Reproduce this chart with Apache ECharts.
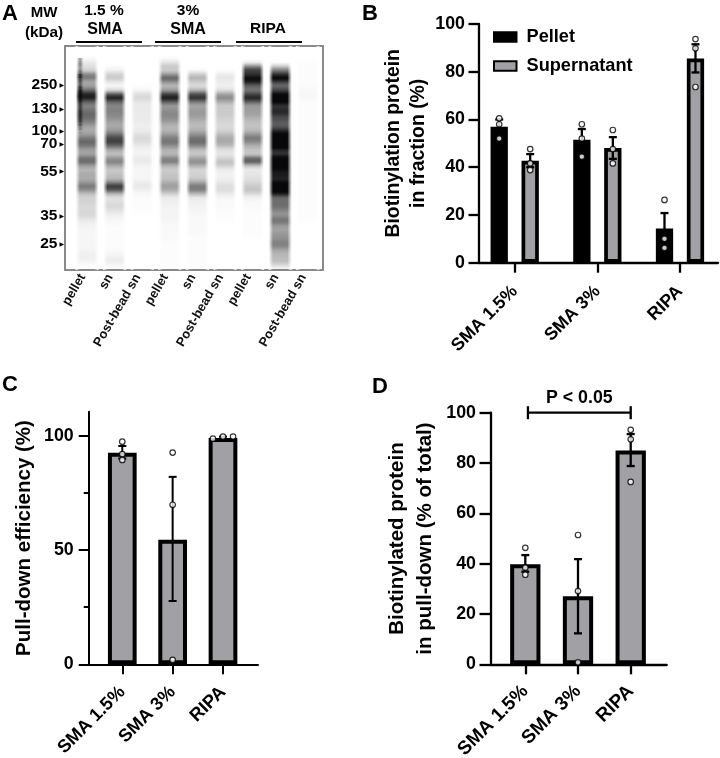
<!DOCTYPE html>
<html><head><meta charset="utf-8">
<style>html,body{margin:0;padding:0;background:#fff}#c{width:720px;height:758px}</style>
<script src="https://cdn.jsdelivr.net/npm/echarts@6/dist/echarts.min.js"></script>
</head><body><div id="c"></div>
<script>
// ---------- Panel A: blot, darkness (%) of each lane, one value per 1/56 of the blot height
const laneNames = ['pellet','sn','Post-bead sn','pellet','sn','Post-bead sn','pellet','sn','Post-bead sn'];
const mwLabels = ['250','130','100','70','55','35','25'];
const mwRows = [9.75,15.75,21.25,24.5,31.4,42.5,49.5];
const lane1 = [0,0,0,4,10,12,20,60,35,30,40,65,90,70,45,45,55,55,50,40,30,30,40,55,55,40,30,38,60,45,25,28,32,28,45,50,30,16,16,16,12,15,14,8,5,4,3,3,3,3,3,5,6,5,2,0];
const lane2 = [0,0,0,0,0,2,8,22,15,3,4,25,88,70,42,45,45,42,38,30,32,40,60,72,65,40,22,25,48,40,20,20,25,25,60,78,40,12,10,14,14,8,5,3,2,1,1,1,1,1,1,3,4,8,4,1];
const lane3 = [0,0,0,0,0,0,0,0,0,0,1,6,16,12,7,8,7,7,8,6,6,8,13,14,10,5,4,5,9,6,3,3,3,4,8,8,3,2,1,1,1,1,0,0,0,0,0,0,0,0,0,0,0,0,0,0];
const lane4 = [0,0,0,3,15,22,15,55,55,25,28,45,88,75,40,35,45,42,40,30,25,28,42,50,50,30,25,28,55,35,18,20,22,22,35,35,25,8,6,5,4,4,4,4,2,2,2,2,2,1,1,1,1,1,1,1];
const lane5 = [0,0,0,0,0,0,5,28,25,12,15,40,82,65,32,33,38,35,30,24,25,32,45,55,52,30,18,22,42,38,16,15,17,20,42,52,38,10,6,5,4,4,2,2,2,2,2,2,1,1,1,1,1,1,1,1];
const lane6 = [0,0,0,0,0,0,2,10,8,5,6,18,45,38,20,18,20,18,16,14,13,18,28,32,30,16,8,10,20,24,8,5,5,6,10,14,10,4,2,2,2,1,1,1,0,0,0,0,0,0,0,0,0,0,0,0];
const lane7 = [0,0,0,0,10,65,70,80,95,65,50,50,82,75,38,35,35,32,25,22,22,28,45,50,32,25,18,25,75,35,8,8,10,12,16,22,20,6,3,2,2,1,1,1,1,1,1,1,0,0,0,0,0,0,0,0];
const lane8 = [0,0,0,0,0,35,55,90,90,50,60,75,100,100,80,70,85,65,65,55,65,85,100,100,100,95,65,85,100,100,95,80,85,75,100,100,100,60,50,55,50,40,38,55,42,32,35,40,40,50,38,28,25,25,18,3];
const lane9 = [0,0,0,0,1,1,1,1,1,1,2,3,3,2,1,1,1,1,1,1,1,1,1,1,1,1,1,1,1,1,1,1,1,1,1,1,1,1,1,1,1,1,1,1,0,0,0,0,0,0,0,0,0,0,0,0];
const laneValues = [lane1,lane2,lane3,lane4,lane5,lane6,lane7,lane8,lane9];
const pelletStreak = [0,0,0,40,45,35,45,80,60,50,75,90,100,80,60,60,70,70,65,50,30,10,0,0];

// ---------- Panel B
const catsB = ['SMA 1.5%','SMA 3%','RIPA'];
const pelletMean = [57,51.5,14.3];
const pelletLow = [54,47,8];
const pelletHigh = [60,56,20.8];
const pelletDots = [[60.5,58,52],[58,52,44.4],[26.3,10,6.2]];
const superMean = [42.7,48,85.5];
const superLow = [40,43.5,79.7];
const superHigh = [45.5,52.6,91.5];
const superDots = [[47.6,41.6,38.8],[55.6,47.6,41.6],[93.7,89.8,73.6]];

// ---------- Panel C
const catsC = ['SMA 1.5%','SMA 3%','RIPA'];
const effMean = [92.5,54.5,99];
const effLow = [90,27.7,98.6];
const effHigh = [95.5,82,99.6];
const effDots = [[0,97.4],[0,91.9],[0,89.4],[1,92.6],[1,69.8],[1,1.9],[1.8,98.7],[2,99.6],[2.2,99.6]];

// ---------- Panel D
const catsD = ['SMA 1.5%','SMA 3%','RIPA'];
const pdMean = [39.8,27,85];
const pdLow = [36.8,12.3,78.8];
const pdHigh = [43.4,41.8,91.5];
const pdDots = [[46.3,38.4,35.6],[51.4,29.1,0.8],[93.2,89.4,72.5]];

const FONT = '"Liberation Sans", Arial, sans-serif';
const GRAY = '#a0a0a5';
const chart = echarts.init(document.getElementById('c'), null, {renderer:'canvas'});
const ink = v => 'rgba(8,8,10,'+Math.min(1,v*1.12).toFixed(3)+')';

function laneRender(params, api){
  const lane = api.value(0), row = api.value(1);
  const a = api.value(2)/100, prev = api.value(3)/100, next = api.value(4)/100;
  const hw = 0.4;
  const mid = 0.6*a+0.2*prev+0.2*next;
  const p1 = api.coord([lane-hw,row]), p2 = api.coord([lane+hw,row+1]);
  return {type:'rect',shape:{x:p1[0],y:p1[1],width:p2[0]-p1[0],height:p2[1]-p1[1]},
    style:{fill:new echarts.graphic.LinearGradient(0,0,0,1,[
      {offset:0,color:ink((a+prev)/2)},{offset:.5,color:ink(mid)},{offset:1,color:ink((a+next)/2)}])}};
}
function edgeRender(params, api){
  const lane = api.value(0), hw = 0.4, f = 0.14;
  const a = api.coord([lane-hw,0]), b = api.coord([lane-hw+f,56]);
  const c = api.coord([lane+hw-f,0]), d = api.coord([lane+hw,56]);
  const w='rgba(255,255,255,1)', t='rgba(255,255,255,0)';
  return {type:'group',children:[
    {type:'rect',shape:{x:a[0]-.5,y:a[1],width:b[0]-a[0]+.5,height:b[1]-a[1]},style:{fill:new echarts.graphic.LinearGradient(0,0,1,0,[{offset:0,color:w},{offset:1,color:t}])}},
    {type:'rect',shape:{x:c[0],y:c[1],width:d[0]-c[0]+.5,height:d[1]-c[1]},style:{fill:new echarts.graphic.LinearGradient(0,0,1,0,[{offset:0,color:t},{offset:1,color:w}])}}
  ]};
}
function streakRender(params, api){
  const row = api.value(1), a = api.value(2)/100;
  const p1 = api.coord([api.value(0)-0.13,row]), p2 = api.coord([api.value(0)+0.13,row+1]);
  const c='rgba(8,8,10,'+a+')', t='rgba(8,8,10,0)';
  return {type:'rect',shape:{x:p1[0],y:p1[1],width:p2[0]-p1[0],height:p2[1]-p1[1]},
    style:{fill:new echarts.graphic.LinearGradient(0,0,1,0,[{offset:0,color:t},{offset:.5,color:c},{offset:1,color:t}])}};
}
function errRender(capPx, lw){
  return function(params, api){
    const x=api.value(0), lo=api.coord([x,api.value(1)]), hi=api.coord([x,api.value(2)]);
    const st={stroke:'#000',lineWidth:lw,fill:null};
    return {type:'group',children:[
      {type:'line',shape:{x1:lo[0],y1:lo[1],x2:hi[0],y2:hi[1]},style:st},
      {type:'line',shape:{x1:lo[0]-capPx,y1:lo[1],x2:lo[0]+capPx,y2:lo[1]},style:st},
      {type:'line',shape:{x1:hi[0]-capPx,y1:hi[1],x2:hi[0]+capPx,y2:hi[1]},style:st}]};
  };
}
function xCatAxis(gridIndex,cats,min,max,lw,size,margin){
  const vals=cats.map((_,i)=>i);
  return {type:'value',gridIndex,min,max,splitLine:{show:false},
    axisLine:{show:true,onZero:false,lineStyle:{color:'#000',width:lw}},
    axisTick:{show:true,length:10,customValues:vals,lineStyle:{color:'#000',width:lw}},
    axisLabel:{customValues:vals,formatter:v=>cats[v],rotate:45,margin,color:'#000',fontFamily:FONT,fontWeight:'bold',fontSize:size}};
}
function yAxis(gridIndex,name,min,max,opt,nameGap,nameSize,lineH,lw,tickLen,labelMargin){
  return Object.assign({type:'value',gridIndex,min,max,name,nameLocation:'middle',nameRotate:90,nameGap,
    nameTextStyle:{color:'#000',fontFamily:FONT,fontWeight:'bold',fontSize:nameSize,lineHeight:lineH},
    splitLine:{show:false},
    axisLine:{show:true,onZero:false,lineStyle:{color:'#000',width:lw}},
    axisTick:{show:true,length:tickLen,customValues:opt.ticks,lineStyle:{color:'#000',width:lw}},
    axisLabel:{customValues:opt.ticks,margin:labelMargin,color:'#000',fontFamily:FONT,fontWeight:'bold',fontSize:17.8}},
    opt.interval?{interval:opt.interval}:{});
}
function barSeries(name,x,y,vals,w,color,bw,extra){
  return Object.assign({type:'bar',name,xAxisIndex:x,yAxisIndex:y,barWidth:w,clip:false,z:2,silent:true,
    data:vals.map((v,i)=>[i,v]),itemStyle:{color,borderColor:'#000',borderWidth:bw}},extra||{});
}
function errSeries(x,y,cen,low,high,cap,lw,off){
  return {type:'custom',xAxisIndex:x,yAxisIndex:y,clip:false,z:3,silent:true,renderItem:errRender(cap,lw),
    encode:{x:0,y:[1,2]},data:low.map((l,i)=>[i+(off||0),l,high[i]])};
}
function dotSeries(x,y,data){
  return {type:'scatter',xAxisIndex:x,yAxisIndex:y,symbol:'circle',symbolSize:5.5,clip:false,z:4,silent:true,
    itemStyle:{color:'#fff',borderColor:'#000',borderWidth:1.2},data};
}
const flatDots=(d,off)=>d.flatMap((vals,i)=>vals.map(v=>[i+(off||0),v]));

const blotData=[];
laneValues.forEach((arr,l)=>arr.forEach((v,r)=>blotData.push([l,r,v,r?arr[r-1]:v,r<arr.length-1?arr[r+1]:v])));
const laneIdx=laneNames.map((_,i)=>i);
const OFF=0.1875;

const texts=[
 ['A',2,14,'left',22],['B',362,14,'left',22],['C',2,385,'left',22],['D',372,387,'left',22],
 ['MW',44,13,'center',15],['(kDa)',44,33,'center',15.3],
 ['1.5 %',104,11,'center',15.5],['SMA',105,30,'center',16],
 ['3%',188,11,'center',15.5],['SMA',188,30,'center',16],['RIPA',268,29,'center',15.5]];
const rules=[[76,142],[155,221],[236,302]];

chart.setOption({
  animation:false,backgroundColor:'#fff',
  textStyle:{fontFamily:FONT},
  grid:[
    {left:65,top:46,width:258,height:224,show:true,borderColor:'#8a8a8a',borderWidth:2,backgroundColor:'#fff',outerBoundsMode:'none'},
    {left:478.5,top:24,width:239.5,height:238.7,outerBoundsMode:'none'},
    {left:88.7,top:411.7,width:169.3,height:252.6,outerBoundsMode:'none'},
    {left:491,top:412.7,width:175.7,height:251.6,outerBoundsMode:'none'}
  ],
  legend:{left:493,top:28,padding:0,orient:'vertical',itemWidth:22.5,itemHeight:9.5,itemGap:11,icon:'rect',
    data:['Pellet','Supernatant'],selectedMode:false,
    textStyle:{color:'#000',fontFamily:FONT,fontWeight:'bold',fontSize:18.2,padding:[0,0,0,5]}},
  xAxis:[
    {type:'value',gridIndex:0,min:-0.797,max:8.55,splitLine:{show:false},axisLine:{show:false},axisTick:{show:false},
     axisLabel:{customValues:laneIdx.map(i=>i-0.16),formatter:v=>laneNames[Math.round(v)],rotate:60,margin:5,color:'#111',fontFamily:FONT,fontWeight:'bold',fontSize:13}},
    xCatAxis(1,catsB,-0.438,2.46,2.3,17.8,26),
    xCatAxis(2,catsC,-0.667,2.695,2,18.2,25),
    xCatAxis(3,catsD,-0.651,2.683,2.3,19,24)
  ],
  yAxis:[
    {type:'value',gridIndex:0,min:0,max:56,inverse:true,splitLine:{show:false},axisLine:{show:false},axisTick:{show:false},
     axisLabel:{customValues:mwRows,margin:1,formatter:v=>'{v|'+mwLabels[mwRows.indexOf(v)]+'}{a| ▶}',
       rich:{v:{fontFamily:FONT,fontWeight:'bold',fontSize:15.5,color:'#000'},a:{fontFamily:'"DejaVu Sans"',fontSize:6,color:'#000'}}}},
    yAxis(1,'Biotinylation protein\nin fraction (%)',0,100,{interval:20},47,19.4,25,2.3,10,13.5),
    yAxis(2,'Pull-down efficiency (%)',0,110.5,{ticks:[0,50,100]},52,20.5,25,2,10,15),
    {type:'value',gridIndex:2,position:'left',min:0,max:110.5,splitLine:{show:false},axisLine:{show:false,onZero:false},
      axisTick:{show:true,length:5,customValues:[25,75],lineStyle:{color:'#000',width:2}},axisLabel:{show:false}},
    yAxis(3,'Biotinylated protein\nin pull-down (% of total)',0,100,{interval:20},52,20.5,28,2.3,11.5,15)
  ],
  series:[
    {type:'custom',xAxisIndex:0,yAxisIndex:0,renderItem:laneRender,z:2,silent:true,encode:{x:0,y:1},data:blotData},
    {type:'custom',xAxisIndex:0,yAxisIndex:0,renderItem:edgeRender,z:3,silent:true,encode:{x:0},data:laneIdx.map(i=>[i])},
    {type:'custom',xAxisIndex:0,yAxisIndex:0,renderItem:streakRender,z:4,silent:true,encode:{x:0,y:1},data:pelletStreak.map((v,r)=>[-0.25,r,v])},

    barSeries('Pellet',1,1,pelletMean,17.3,'#000',3.7,{barGap:'79%'}),
    barSeries('Supernatant',1,1,superMean,17.3,GRAY,3.7,{barGap:'79%'}),
    errSeries(1,1,pelletMean,pelletLow,pelletHigh,4,2.3,-OFF),
    errSeries(1,1,superMean,superLow,superHigh,4,2.3,OFF),
    dotSeries(1,1,flatDots(pelletDots,-OFF)),
    dotSeries(1,1,flatDots(superDots,OFF)),

    barSeries('Efficiency',2,2,effMean,28.7,GRAY,4),
    errSeries(2,2,effMean,effLow,effHigh,4,2),
    dotSeries(2,2,effDots),

    barSeries('Pull-down',3,4,pdMean,30.3,GRAY,4),
    errSeries(3,4,pdMean,pdLow,pdHigh,4,2.3),
    dotSeries(3,4,flatDots(pdDots)),
    {type:'custom',xAxisIndex:3,yAxisIndex:4,clip:false,z:5,silent:true,encode:{x:0,y:1},
     data:[[0.05,100,2]],
     renderItem(params,api){
       const a=api.coord([api.value(0),api.value(1)]), b=api.coord([api.value(2),api.value(1)]);
       const st={stroke:'#000',lineWidth:2.3};
       return {type:'group',children:[
         {type:'line',shape:{x1:a[0],y1:a[1],x2:b[0],y2:b[1]},style:st},
         {type:'line',shape:{x1:a[0],y1:a[1]-6.5,x2:a[0],y2:a[1]+6.5},style:st},
         {type:'line',shape:{x1:b[0],y1:b[1]-6.5,x2:b[0],y2:b[1]+6.5},style:st},
         {type:'text',style:{text:'P < 0.05',x:(a[0]+b[0])/2,y:a[1]-14.5,align:'center',verticalAlign:'middle',fill:'#000',
           font:'bold 17.8px '+FONT}}]};
     }}
  ],
  graphic:{elements:[
    ...texts.map(t=>({type:'text',x:t[1],y:t[2],silent:true,
      style:{text:t[0],align:t[3],verticalAlign:'middle',fill:'#000',font:'bold '+t[4]+'px '+FONT}})),
    ...rules.map(r=>({type:'line',silent:true,shape:{x1:r[0],y1:42,x2:r[1],y2:42},style:{stroke:'#000',lineWidth:2}}))
  ]}
});
</script></body></html>
